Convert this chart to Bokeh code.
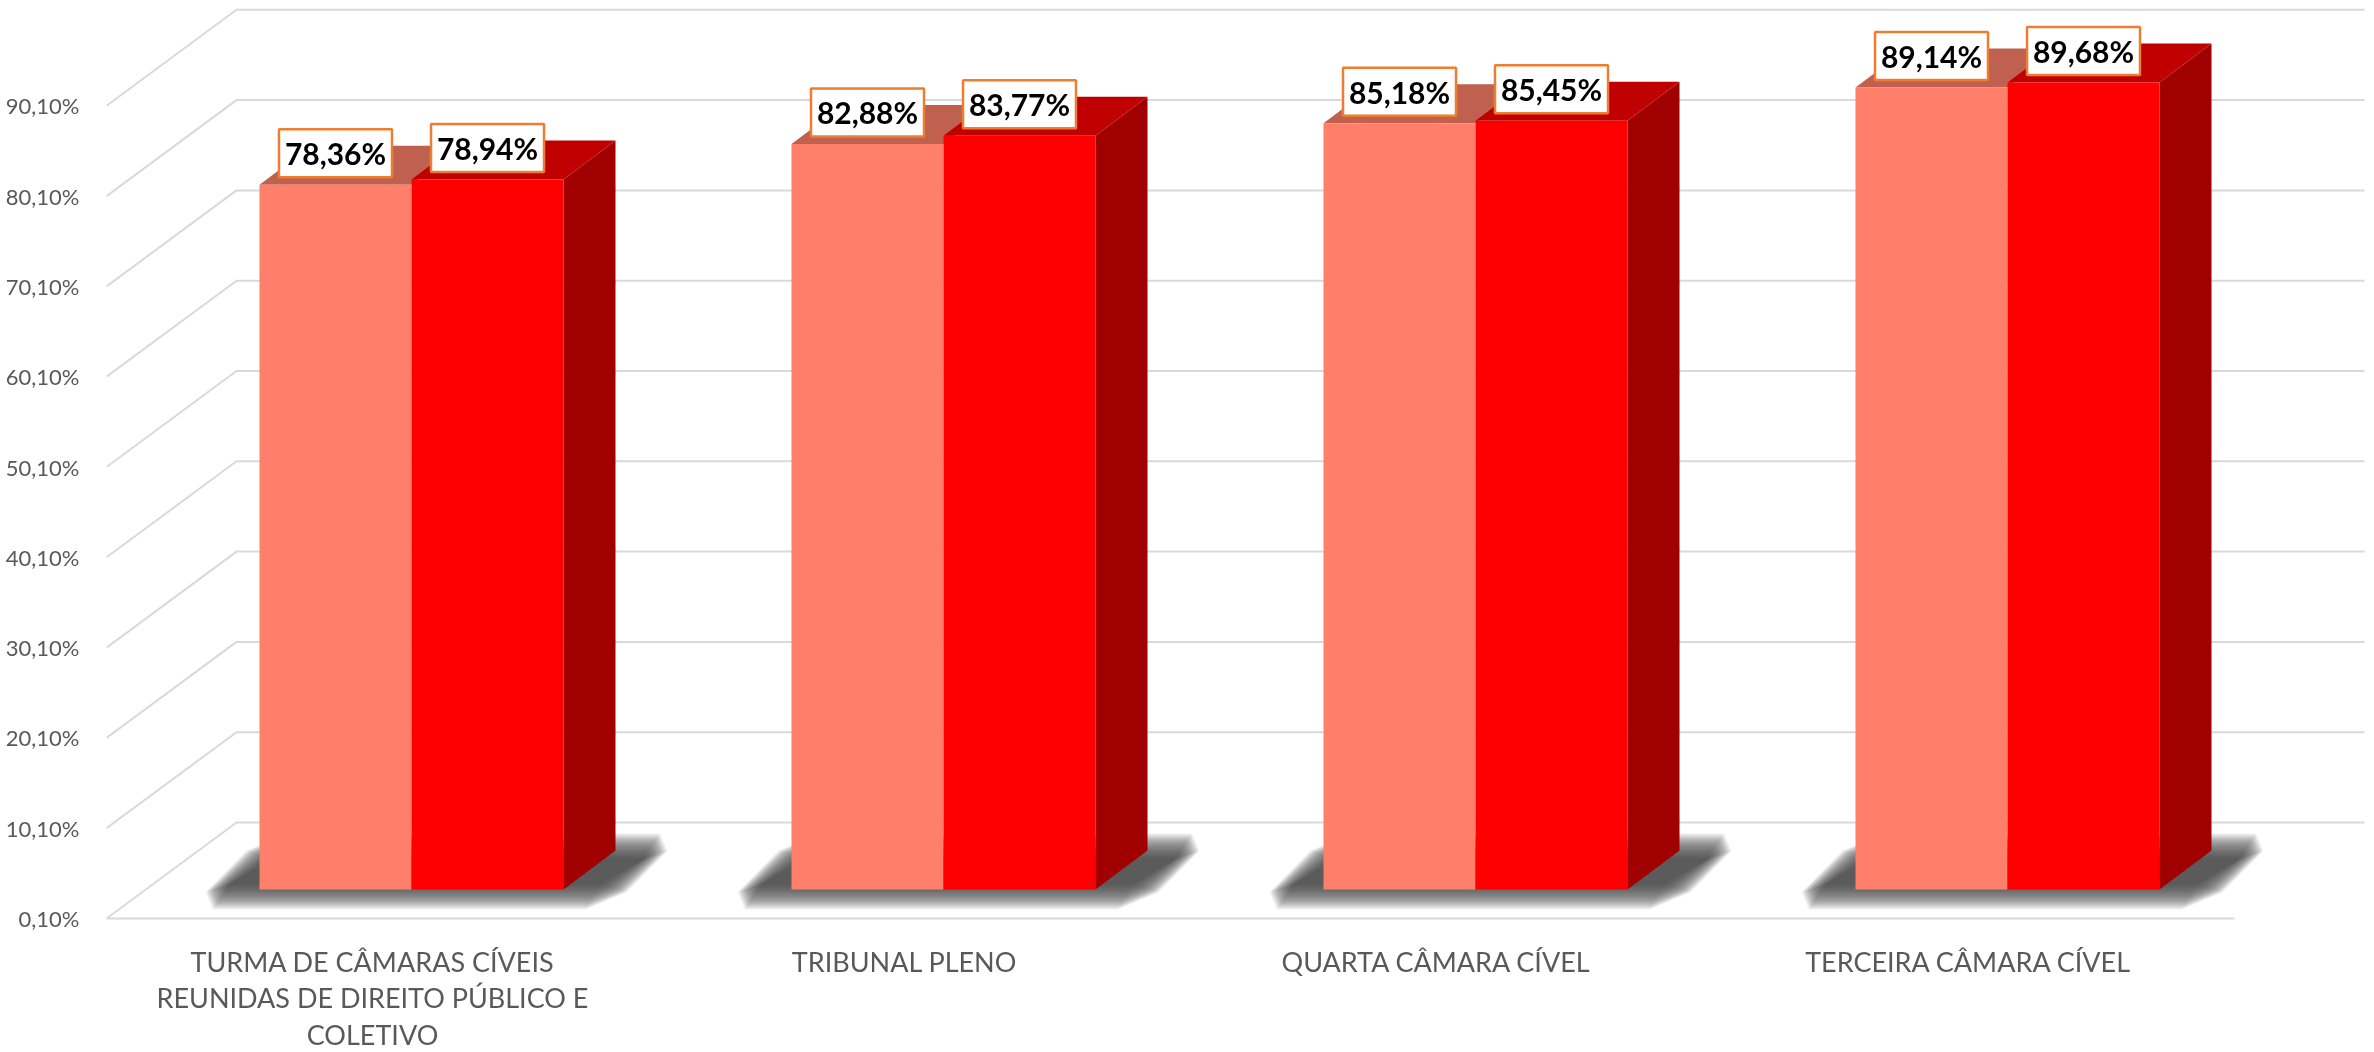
import numpy as np
from bokeh.plotting import figure
from bokeh.models import Range1d, FixedTicker, ColumnDataSource
from bokeh.core.properties import value
from bokeh.embed import file_html
from bokeh.resources import INLINE

categories = ["TURMA DE CÂMARAS CÍVEIS\nREUNIDAS DE DIREITO PÚBLICO E\nCOLETIVO",
              "TRIBUNAL PLENO", "QUARTA CÂMARA CÍVEL", "TERCEIRA CÂMARA CÍVEL"]
series_a = [78.36, 82.88, 85.18, 89.14]
series_b = [78.94, 83.77, 85.45, 89.68]
a_labels = ["78,36%", "82,88%", "85,18%", "89,14%"]
b_labels = ["78,94%", "83,77%", "85,45%", "89,68%"]
y_ticks = [0.1, 10.1, 20.1, 30.1, 40.1, 50.1, 60.1, 70.1, 80.1, 90.1]
y_tick_labels = ["0,10%", "10,10%", "20,10%", "30,10%", "40,10%", "50,10%",
                 "60,10%", "70,10%", "80,10%", "90,10%"]

# geometry, in screen pixels
PAGE_W, PAGE_H = 2374, 1052
LEFT, FLOOR = 106, 918
CAT_W = 532
PY = 9.03                       # pixels per percentage point
PX = 1 / CAT_W
DY = 1 / PY
WALL_DX, WALL_DY = 130 * PX, 96 * DY
FLOOR_END = 4.0                 # front floor line ends after the last category
BACK_END = (2364 - LEFT) * PX
BAR_W = 152 * PX
SHIFT = 39 * PX
BAR_DX, BAR_DY = 52 * PX, 39 * DY
BAR_BASE = 0.1 + (FLOOR - 889) * DY
BAR_OFF = 3.0                   # top of a bar = value + this, in the plane of the bars
LABEL_UP = 31.5 * DY

C_SALMON, C_SALMON_TOP = "#FF7F6A", "#C0604E"
C_RED, C_RED_TOP, C_SIDE = "#FF0000", "#C00000", "#A00000"
C_GRID, C_TEXT, C_BOX = "#D9D9D9", "#595959", "#ED7D31"

p = figure(width=PAGE_W, height=PAGE_H, output_backend="svg", toolbar_location=None,
           x_range=Range1d(0, (PAGE_W - LEFT) * PX),
           y_range=Range1d(0.1 - (PAGE_H - FLOOR) * DY, 0.1 + FLOOR * DY),
           min_border_left=LEFT, min_border_right=0, min_border_top=0, min_border_bottom=0,
           styles={"position": "fixed", "top": "0", "left": "0"})
p.outline_line_color = None
p.background_fill_color = "white"
p.grid.visible = False

# axes
p.yaxis.ticker = FixedTicker(ticks=y_ticks)
p.yaxis.major_label_overrides = {t: s for t, s in zip(y_ticks, y_tick_labels)}
p.yaxis.axis_line_color = None
p.yaxis.major_tick_line_color = None
p.yaxis.minor_tick_line_color = None
p.yaxis.major_label_standoff = 21
p.yaxis.major_label_text_font = "Lato"
p.yaxis.major_label_text_font_size = "22px"
p.yaxis.major_label_text_color = C_TEXT

cat_pos = [i + 0.5 for i in range(len(categories))]
p.xaxis.ticker = FixedTicker(ticks=cat_pos)
p.xaxis.major_label_overrides = {t: s for t, s in zip(cat_pos, categories)}
p.xaxis.fixed_location = 0.1
p.xaxis.axis_line_color = None
p.xaxis.major_tick_line_color = None
p.xaxis.minor_tick_line_color = None
p.xaxis.major_label_standoff = 20
p.xaxis.major_label_text_font = "Lato"
p.xaxis.major_label_text_font_size = "27px"
p.xaxis.major_label_text_color = C_TEXT
p.xaxis.major_label_text_line_height = 1.12

# walls and floor
xs, ys = [], []
for t in y_ticks:
    xs.append([0, WALL_DX, BACK_END])
    ys.append([t, t + WALL_DY, t + WALL_DY])
xs.append([0, FLOOR_END])
ys.append([y_ticks[0], y_ticks[0]])
p.multi_line(xs, ys, line_color=C_GRID, line_width=2)


def cut_corners(corners, cut):
    """Replace each corner of a polygon by a short chamfer, cut pixels along both edges."""
    pts = []
    n = len(corners)
    for k in range(n):
        c, a, b = corners[k], corners[k - 1], corners[(k + 1) % n]
        pts.append(c + (a - c) / np.linalg.norm(a - c) * cut)
        pts.append(c + (b - c) / np.linalg.norm(b - c) * cut)
    return np.array(pts)


# soft floor shadows, built from stacked translucent shapes (pixels relative to the bar's corner)
for i in range(len(categories)):
    x0 = cat_pos[i] + SHIFT - BAR_W
    for step in range(24):
        grow = 13 - step * 1.1
        corners = np.array([[-50 - grow * 1.6, -7 - grow],
                            [345 + grow * 0.4, -7 - grow],
                            [404 + grow * 1.6, 43 + grow],
                            [9 - grow * 0.4, 43 + grow]], dtype=float)
        poly = cut_corners(corners, max(grow + 14, 1) * 0.9)
        p.patch(x0 + poly[:, 0] * PX, BAR_BASE + poly[:, 1] * DY,
                fill_color="#404040", fill_alpha=0.075, line_color=None)

# bars
for i in range(len(categories)):
    c = cat_pos[i] + SHIFT
    ta, tb = series_a[i] + BAR_OFF, series_b[i] + BAR_OFF
    # top of the salmon bar, top and side of the red one
    p.patch([c - BAR_W, c, c + BAR_DX, c - BAR_W + BAR_DX], [ta, ta, ta + BAR_DY, ta + BAR_DY],
            fill_color=C_SALMON_TOP, line_color=None)
    p.patch([c, c + BAR_W, c + BAR_W + BAR_DX, c + BAR_DX], [tb, tb, tb + BAR_DY, tb + BAR_DY],
            fill_color=C_RED_TOP, line_color=None)
    p.patch([c + BAR_W, c + BAR_W + BAR_DX, c + BAR_W + BAR_DX, c + BAR_W],
            [BAR_BASE, BAR_BASE + BAR_DY, tb + BAR_DY, tb],
            fill_color=C_SIDE, line_color=None)

centers = [c + SHIFT for c in cat_pos]
p.quad(left=[c - BAR_W for c in centers], right=centers, bottom=BAR_BASE,
       top=[v + BAR_OFF for v in series_a], fill_color=C_SALMON, line_color=None)
p.quad(left=centers, right=[c + BAR_W for c in centers], bottom=BAR_BASE,
       top=[v + BAR_OFF for v in series_b], fill_color=C_RED, line_color=None)

# data labels
src = ColumnDataSource(dict(
    x=[c - BAR_W / 2 for c in centers] + [c + BAR_W / 2 for c in centers],
    y=[v + BAR_OFF + LABEL_UP for v in series_a + series_b],
    t=a_labels + b_labels))
p.rect("x", "y", width=113, height=48, width_units="screen", height_units="screen", source=src,
       fill_color="white", line_color=C_BOX, line_width=2.5)
p.text("x", "y", text="t", source=src, text_align="center", text_baseline="middle",
       text_font=value("Lato"), text_font_style="bold", text_font_size="30px", text_color="black")

open("out.html", "w").write(file_html(p, INLINE))
